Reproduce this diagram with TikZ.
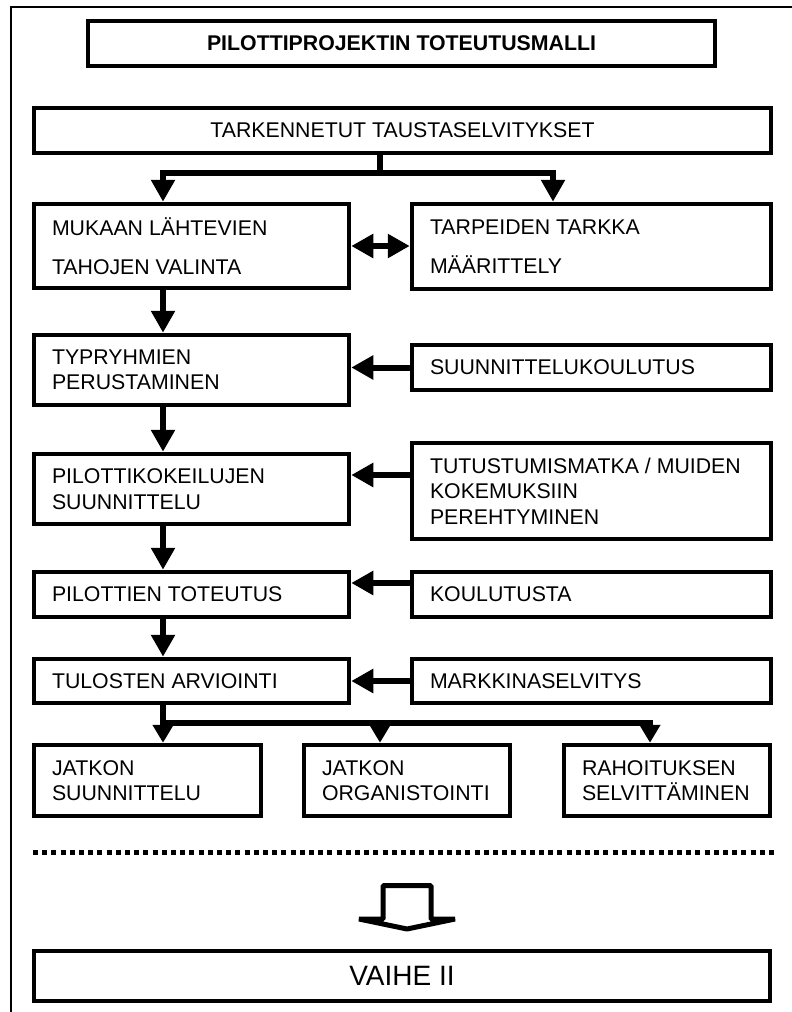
\documentclass[tikz,border=0pt]{standalone}
\usepackage{fontspec}
\setmainfont{Liberation Sans}
\usetikzlibrary{arrows.meta}
\begin{document}
\begin{tikzpicture}[x=1pt,y=-1pt,
  box/.style={draw, line width=4.5pt, inner xsep=18pt, inner ysep=0pt,
    align=flush left, font=\fontsize{21.3}{25.5}\selectfont},
  lbox/.style={box, minimum width=315pt, text width=279pt},
  rbox/.style={box, minimum width=359pt, text width=323pt},
  sbox/.style={box, minimum width=206pt, text width=170pt, minimum height=71pt},
  conn/.style={line width=6pt, line join=miter},
  tip/.tip={Triangle[width=23pt,length=22pt]},
  stip/.tip={Triangle[width=20pt,length=18pt]},
  wide/.style={font=\fontsize{28}{33}\selectfont}]
\useasboundingbox (0,0) rectangle (792,1012);
% outer frame (partly visible)
\coordinate (f1) at (11,1016);
\coordinate (f2) at (11,7);
\coordinate (f3) at (796,7);
\draw[line width=1.5pt] (f1) -- (f2) -- (f3);
% boxes
\node[box, align=center, minimum width=627pt, minimum height=45pt,
  font=\fontsize{21.3}{25.5}\selectfont\bfseries] (title) at (401.5,43.5) {PILOTTIPROJEKTIN TOTEUTUSMALLI};
\node[box, align=center, minimum width=737pt, minimum height=45pt] (tark) at (402.5,130.5) {TARKENNETUT TAUSTASELVITYKSET};
\node[lbox, minimum height=84pt, font=\fontsize{21.3}{39}\selectfont] (mukaan) at (191.5,246) {MUKAAN LÄHTEVIEN\\TAHOJEN VALINTA};
\node[rbox, minimum height=85pt, font=\fontsize{21.3}{39}\selectfont] (tarp) at (591.5,246.5) {TARPEIDEN TARKKA\\MÄÄRITTELY};
\node[lbox, minimum height=70pt] (typ) at (191.5,370) {TYPRYHMIEN\\PERUSTAMINEN};
\node[rbox, minimum height=45pt] (skoul) at (591.5,367.5) {SUUNNITTELUKOULUTUS};
\node[lbox, minimum height=70pt] (pilkok) at (191.5,489) {PILOTTIKOKEILUJEN\\SUUNNITTELU};
\node[rbox, minimum height=96pt] (tutust) at (591.5,491) {TUTUSTUMISMATKA / MUIDEN\\KOKEMUKSIIN\\PEREHTYMINEN};
\node[lbox, minimum height=45pt] (piltot) at (191.5,594.5) {PILOTTIEN TOTEUTUS};
\node[rbox, minimum height=45pt] (koul) at (591.5,594.5) {KOULUTUSTA};
\node[lbox, minimum height=44pt] (tulos) at (191.5,681) {TULOSTEN ARVIOINTI};
\node[rbox, minimum height=44pt] (markk) at (591.5,681) {MARKKINASELVITYS};
\node[box, minimum width=227pt, text width=191pt, minimum height=71pt] (jsuun) at (147.5,780.5) {JATKON\\SUUNNITTELU};
\node[sbox] (jorg) at (407,780.5) {JATKON\\ORGANISTOINTI};
\node[sbox] (rahoit) at (667,780.5) {RAHOITUKSEN\\SELVITTÄMINEN};
\node[box, wide, align=center, minimum width=736pt, minimum height=50pt] (vaihe) at (402,976) {VAIHE II};
% helper coordinates
\coordinate (b1) at (380,173);
\coordinate (lx) at (163,0);
\coordinate (rx) at (553,0);
\coordinate (a2) at (0,475);
\coordinate (a3) at (0,583);
\coordinate (b2) at (163,723);
\coordinate (mx) at (380,0);
\coordinate (rx2) at (650,0);
% connectors
\draw[conn] (tark.south -| b1) -- (b1);
\draw[conn,-tip] (b1) -| (mukaan.north -| lx);
\draw[conn,-tip] (b1) -| (tarp.north -| rx);
\draw[conn,tip-tip] (mukaan.east) -- (mukaan.east -| tarp.west);
\draw[conn,-tip] (mukaan.south -| lx) -- (typ.north -| lx);
\draw[conn,-tip] (typ.south -| lx) -- (pilkok.north -| lx);
\draw[conn,-tip] (pilkok.south -| lx) -- (piltot.north -| lx);
\draw[conn,-tip] (piltot.south -| lx) -- (tulos.north -| lx);
\draw[conn,-tip] (skoul.west) -- (skoul.west -| typ.east);
\draw[conn,-tip] (tutust.west |- a2) -- (pilkok.east |- a2);
\draw[conn,-tip] (koul.west |- a3) -- (piltot.east |- a3);
\draw[conn,-tip] (markk.west) -- (markk.west -| tulos.east);
\draw[conn,-stip] (tulos.south -| b2) -- (jsuun.north -| b2);
\draw[conn,-stip] (b2) -| (rahoit.north -| rx2);
\draw[conn,-stip] (b2 -| mx) -- (jorg.north -| mx);
% dotted separator
\coordinate (d1) at (33,852);
\coordinate (d2) at (777,852);
\draw[line width=5pt, dash pattern=on 5pt off 4.2pt] (d1) -- (d2);
% block arrow
\draw[line width=5pt, line join=bevel, fill=white]
  (383,919) -- (383,885.5) -- (431,885.5) -- (431,919) -- (455,919) -- (407,929) -- (359,919) -- cycle;
\end{tikzpicture}
\end{document}
